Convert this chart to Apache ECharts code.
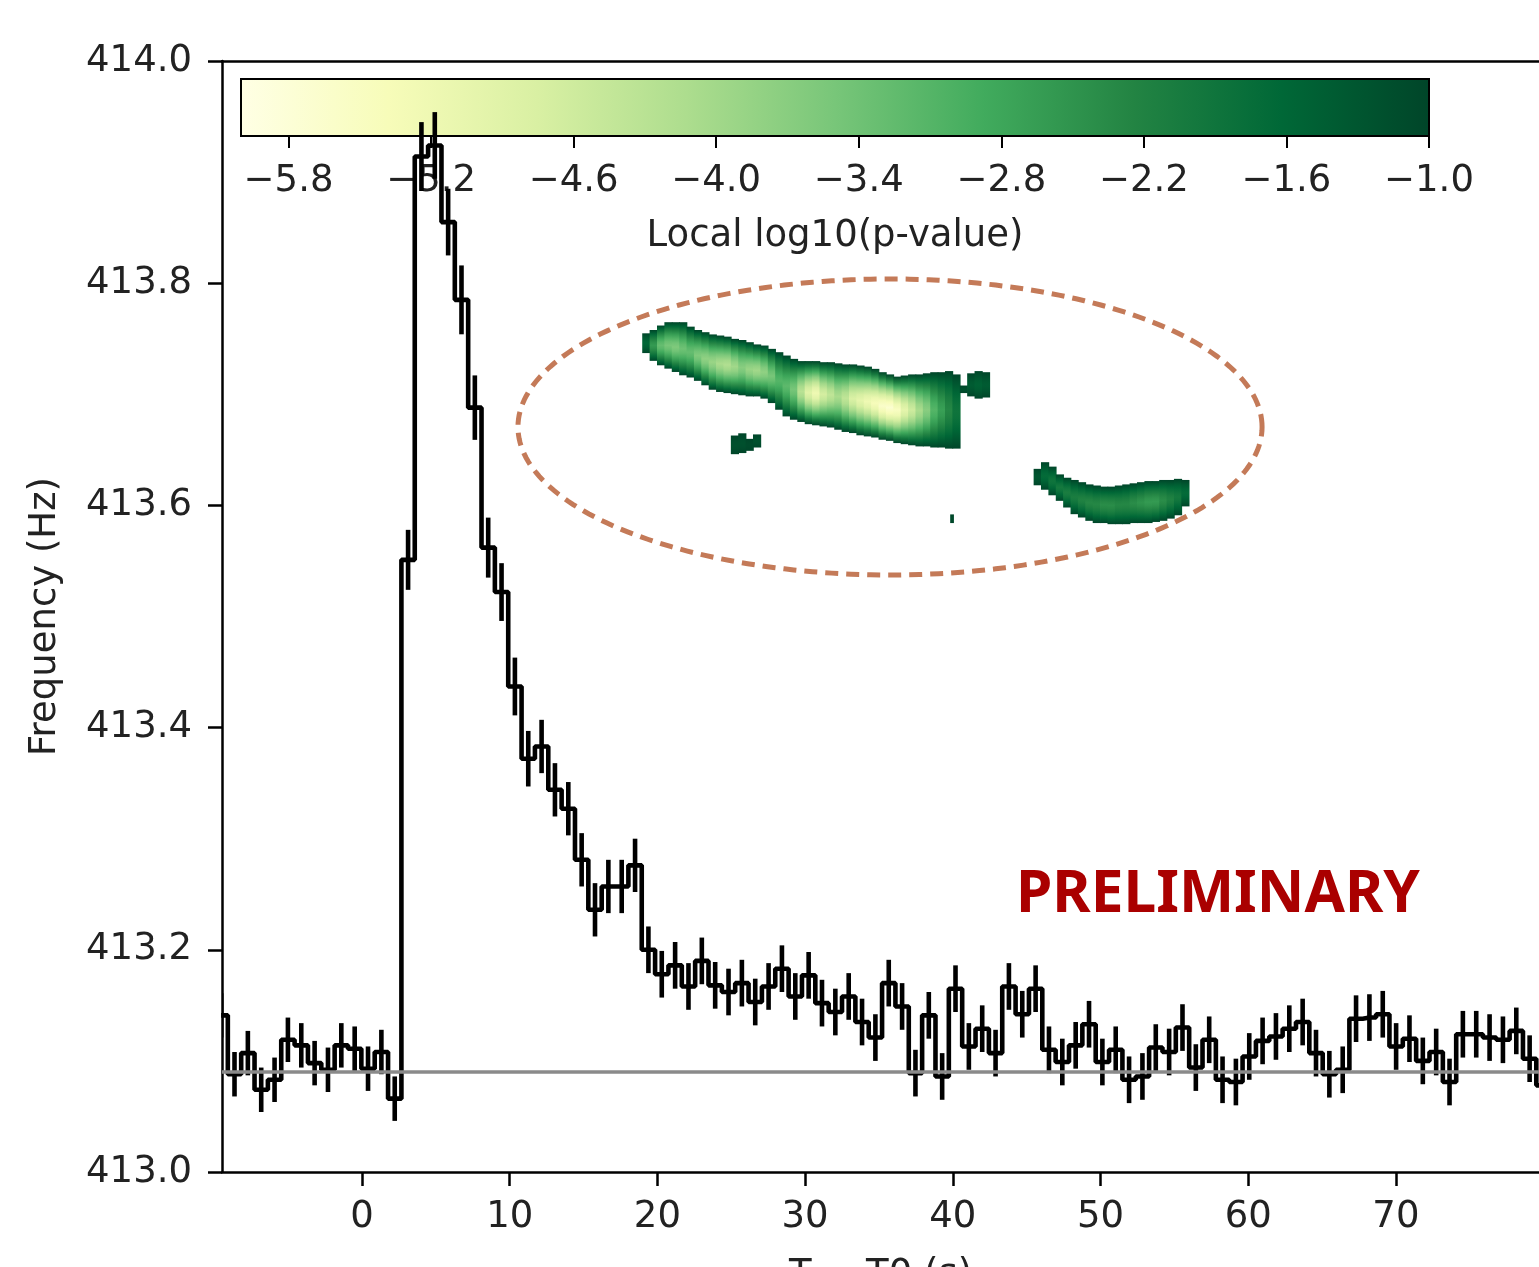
<!DOCTYPE html>
<html><head><meta charset="utf-8">
<script src="https://cdn.jsdelivr.net/npm/echarts@6/dist/echarts.min.js"></script>
<style>html,body{margin:0;padding:0;background:#fff}#c{width:1539px;height:1267px}</style>
</head><body><div id="c"></div>
<script>
// ---------------- data ----------------
const binTimes = [-9.536,-8.632,-7.728,-6.824,-5.920,-5.016,-4.112,-3.208,-2.304,-1.400,
 -0.496,0.408,1.312,2.216,3.120,4.024,4.928,5.832,6.736,7.640,
 8.544,9.448,10.352,11.256,12.160,13.064,13.968,14.872,15.776,16.680,
 17.584,18.488,19.392,20.296,21.200,22.104,23.008,23.912,24.816,25.720,
 26.624,27.528,28.432,29.336,30.240,31.144,32.048,32.952,33.856,34.760,
 35.664,36.568,37.472,38.376,39.280,40.184,41.088,41.992,42.896,43.800,
 44.704,45.608,46.512,47.416,48.320,49.224,50.128,51.032,51.936,52.840,
 53.744,54.648,55.552,56.456,57.360,58.264,59.168,60.072,60.976,61.880,
 62.784,63.688,64.592,65.496,66.400,67.304,68.208,69.112,70.016,70.920,
 71.824,72.728,73.632,74.536,75.440,76.344,77.248,78.152,79.056,79.960];
const freqValues = [413.141,413.088,413.107,413.074,413.083,413.119,413.114,413.098,413.092,413.114,
 413.111,413.093,413.108,413.066,413.551,413.914,413.924,413.855,413.785,413.688,
 413.562,413.522,413.437,413.372,413.383,413.344,413.327,413.281,413.236,413.257,
 413.257,413.276,413.200,413.178,413.186,413.167,413.190,413.168,413.162,413.170,
 413.153,413.167,413.183,413.158,413.177,413.152,413.144,413.158,413.135,413.121,
 413.170,413.149,413.089,413.141,413.086,413.165,413.113,413.129,413.107,413.167,
 413.142,413.165,413.110,413.099,413.114,413.133,413.099,413.110,413.083,413.086,
 413.112,413.108,413.130,413.094,413.119,413.083,413.081,413.104,413.118,413.122,
 413.129,413.135,413.107,413.088,413.092,413.138,413.139,413.142,413.113,413.120,
 413.100,413.108,413.081,413.124,413.124,413.121,413.119,413.127,413.102,413.078];
const freqErrors = [0.020,0.020,0.020,0.020,0.020,0.020,0.020,0.020,0.020,0.020,
 0.020,0.020,0.020,0.020,0.027,0.031,0.030,0.030,0.031,0.029,
 0.027,0.026,0.026,0.025,0.024,0.024,0.024,0.024,0.024,0.024,
 0.024,0.024,0.021,0.021,0.021,0.021,0.021,0.021,0.021,0.021,
 0.021,0.021,0.021,0.021,0.021,0.021,0.021,0.021,0.021,0.021,
 0.021,0.021,0.021,0.021,0.021,0.021,0.021,0.021,0.021,0.021,
 0.021,0.021,0.021,0.021,0.021,0.021,0.021,0.021,0.021,0.021,
 0.021,0.021,0.021,0.021,0.021,0.021,0.021,0.021,0.021,0.021,
 0.021,0.021,0.021,0.021,0.021,0.021,0.021,0.021,0.021,0.021,
 0.021,0.021,0.021,0.021,0.021,0.021,0.021,0.021,0.021,0.021];
const baselineHz = 413.093;

// search-statistic blobs (column start time, top freq, bottom freq, local log10 p at core)
const trackA_t = [19.0,19.5,20.0,20.5,21.0,21.5,22.0,22.5,23.0,23.5,24.0,24.5,25.0,25.5,26.0,26.5,27.0,27.5,28.0,28.5,29.0,29.5,30.0,30.5,31.0,31.5,32.0,32.5,33.0,33.5,34.0,34.5,35.0,35.5,36.0,36.5,37.0,37.5,38.0,38.5,39.0,39.5,40.0];
const trackA_top = [413.754,413.757,413.761,413.764,413.764,413.764,413.760,413.757,413.755,413.753,413.752,413.751,413.749,413.748,413.746,413.744,413.743,413.740,413.737,413.734,413.731,413.729,413.729,413.729,413.728,413.728,413.727,413.726,413.726,413.725,413.724,413.722,413.719,413.717,413.715,413.716,413.717,413.717,413.718,413.719,413.719,413.720,413.717];
const trackA_bot = [413.738,413.731,413.727,413.724,413.721,413.718,413.716,413.713,413.709,413.705,413.703,413.702,413.701,413.700,413.699,413.699,413.697,413.693,413.687,413.681,413.678,413.676,413.674,413.673,413.672,413.671,413.669,413.667,413.666,413.664,413.663,413.662,413.660,413.659,413.657,413.656,413.655,413.654,413.654,413.653,413.653,413.652,413.652];
const trackA_val = [-1.6,-2.6,-3.3,-3.5,-3.6,-3.4,-3.3,-3.6,-3.8,-3.9,-4.1,-4.2,-4.0,-3.7,-3.9,-4.0,-3.8,-3.5,-3.1,-3.2,-3.5,-4.3,-4.9,-5.2,-4.7,-4.4,-4.1,-4.4,-4.8,-5.0,-5.2,-5.4,-5.6,-5.7,-5.5,-5.0,-4.6,-4.1,-3.7,-3.1,-2.7,-2.3,-1.9];

const trackB_t = [45.5,46.0,46.5,47.0,47.5,48.0,48.5,49.0,49.5,50.0,50.5,51.0,51.5,52.0,52.5,53.0,53.5,54.0,54.5,55.0,55.5];
const trackB_top = [413.632,413.638,413.634,413.627,413.624,413.622,413.620,413.618,413.617,413.616,413.616,413.617,413.618,413.619,413.620,413.621,413.621,413.622,413.622,413.623,413.622];
const trackB_bot = [413.619,413.615,413.610,413.605,413.599,413.593,413.590,413.587,413.585,413.585,413.584,413.584,413.584,413.585,413.585,413.585,413.586,413.587,413.589,413.592,413.600];
const trackB_val = [-1.3,-1.7,-1.9,-2.0,-2.1,-2.1,-2.2,-2.3,-2.3,-2.4,-2.4,-2.3,-2.3,-2.4,-2.5,-2.6,-2.6,-2.4,-2.2,-2.0,-1.7];

const blobC_t = [40.5,41.0,41.5,42.0];
const blobC_top = [413.707,413.718,413.720,413.719];
const blobC_bot = [413.702,413.699,413.697,413.698];
const blobC_val = [-1.2,-1.4,-1.5,-1.4];

const blobD_t = [25.0,25.5,26.0,26.5];
const blobD_top = [413.662,413.664,413.659,413.663];
const blobD_bot = [413.647,413.648,413.650,413.653];
const blobD_val = [-1.2,-1.2,-1.1,-1.2];

const blobE_t = [39.85];
const blobE_top = [413.591];
const blobE_bot = [413.585];
const blobE_val = [-1.1];

// search region ellipse: [center time, center freq, half-width (s), half-height (Hz)]
const regionEllipse = [35.75, 413.6706, 25.19, 0.1332];

const xTicks = [0,10,20,30,40,50,60,70];
const cbTicks = [-5.8,-5.2,-4.6,-4.0,-3.4,-2.8,-2.2,-1.6,-1.0];
const cbRange = [-6, -1];

// ---------------- helpers ----------------
const YLGN = ['#ffffe5','#f7fcb9','#d9f0a3','#addd8e','#78c679','#41ab5d','#238443','#006837','#004529'];
function hex2rgb(h){return [parseInt(h.slice(1,3),16),parseInt(h.slice(3,5),16),parseInt(h.slice(5,7),16)];}
const YLGN_RGB = YLGN.map(hex2rgb);
function cmap(v){
  let t=(v-cbRange[0])/(cbRange[1]-cbRange[0]); t=Math.max(0,Math.min(1,t));
  const s=t*8; const i=Math.min(7,Math.floor(s)); const f=s-i;
  const a=YLGN_RGB[i], b=YLGN_RGB[i+1];
  return 'rgb('+a.map((c,j)=>Math.round(c+(b[j]-c)*f)).join(',')+')';
}
const FONT='DejaVu Sans';
const TXT='#222';
const EDGE=-1.0;

function blobData(ts, tops, bots, vals, w){
  return ts.map((t,i)=>[t, tops[i], t+w, bots[i], vals[i]]);
}
const blobs = [].concat(
  blobData(trackA_t, trackA_top, trackA_bot, trackA_val, 0.5),
  blobData(trackB_t, trackB_top, trackB_bot, trackB_val, 0.5),
  blobData(blobC_t, blobC_top, blobC_bot, blobC_val, 0.5),
  blobData(blobD_t, blobD_top, blobD_bot, blobD_val, 0.5),
  blobData(blobE_t, blobE_top, blobE_bot, blobE_val, 0.2)
);

const stepData = binTimes.map((t,i)=>[t, freqValues[i]]);
const errData = binTimes.map((t,i)=>[t, freqValues[i], freqErrors[i]]);

const XMIN=-9.479, XMAX=79.69;
const axisLineStyle={color:'#000',width:2.5};
const LW=4.6;

const option = {
  animation:false,
  backgroundColor:'#fff',
  grid:[
    {left:222, right:0, top:61, bottom:95, show:false, outerBoundsMode:'none', containLabel:false},
    {left:241, width:1188, top:79, height:57, show:false, outerBoundsMode:'none', containLabel:false}
  ],
  xAxis:[
    {gridIndex:0, type:'value', min:XMIN, max:XMAX, position:'bottom',
     axisLine:{show:true, onZero:false, lineStyle:axisLineStyle},
     axisTick:{show:true, length:14, customValues:xTicks, lineStyle:axisLineStyle},
     axisLabel:{show:true, customValues:xTicks, fontSize:37, fontFamily:FONT, color:TXT, margin:27},
     splitLine:{show:false},
     name:'T − T0 (s)', nameLocation:'middle', nameGap:85,
     nameTextStyle:{fontSize:37, fontFamily:FONT, color:TXT}},
    {gridIndex:0, type:'value', min:XMIN, max:XMAX, position:'top',
     axisLine:{show:true, onZero:false, lineStyle:axisLineStyle},
     axisTick:{show:false}, axisLabel:{show:false}, splitLine:{show:false}},
    {gridIndex:1, type:'value', min:cbRange[0], max:cbRange[1], position:'bottom',
     axisLine:{show:false, onZero:false},
     axisTick:{show:true, length:12, customValues:cbTicks, lineStyle:{color:'#000',width:2}},
     axisLabel:{show:true, customValues:cbTicks, fontSize:37, fontFamily:FONT, color:TXT, margin:27,
       formatter:v=>(v<0?'\u2212':'')+Math.abs(v).toFixed(1)},
     splitLine:{show:false},
     name:'Local log10(p-value)', nameLocation:'middle', nameGap:82,
     nameTextStyle:{fontSize:37, fontFamily:FONT, color:TXT}}
  ],
  yAxis:[
    {gridIndex:0, type:'value', min:413, max:414, interval:0.2,
     axisLine:{show:true, onZero:false, lineStyle:axisLineStyle},
     axisTick:{show:true, length:14, lineStyle:axisLineStyle},
     axisLabel:{show:true, fontSize:37, fontFamily:FONT, color:TXT, margin:30, formatter:v=>v.toFixed(1)},
     splitLine:{show:false},
     name:'Frequency (Hz)', nameLocation:'middle', nameGap:158, nameRotate:90,
     nameTextStyle:{fontSize:37, fontFamily:FONT, color:TXT}},
    {gridIndex:1, type:'value', min:0, max:1, show:false}
  ],
  series:[
    { // colorbar
      type:'custom', xAxisIndex:2, yAxisIndex:1, z:1, silent:true,
      data:[[cbRange[0], 1, cbRange[1], 0]], encode:{x:[0,2], y:[1,3]},
      renderItem:(p,api)=>{
        const a=api.coord([api.value(0),api.value(1)]), b=api.coord([api.value(2),api.value(3)]);
        return {type:'rect', shape:{x:a[0],y:a[1],width:b[0]-a[0],height:b[1]-a[1]},
          style:{fill:new echarts.graphic.LinearGradient(0,0,1,0,YLGN.map((c,i)=>({offset:i/8,color:c}))),
                 stroke:'#000', lineWidth:2}};
      }
    },
    { // p-value blobs
      type:'custom', xAxisIndex:0, yAxisIndex:0, z:2, silent:true, clip:true,
      data:blobs, encode:{x:[0,2], y:[1,3]},
      renderItem:(p,api)=>{
        const a=api.coord([api.value(0),api.value(1)]), b=api.coord([api.value(2),api.value(3)]);
        const c=api.value(4); const stops=[];
        for(let i=0;i<=12;i++){const t=i/12; const f=1-Math.pow(Math.abs(2*t-1),1.5);
          stops.push({offset:t,color:cmap(EDGE+(c-EDGE)*f)});}
        return {type:'rect', shape:{x:a[0]-0.4,y:a[1]-1,width:b[0]-a[0]+0.8,height:b[1]-a[1]+2},
          style:{fill:new echarts.graphic.LinearGradient(0,0,0,1,stops)}};
      }
    },
    { // region ellipse
      type:'custom', xAxisIndex:0, yAxisIndex:0, z:3, silent:true,
      data:[regionEllipse], encode:{x:0, y:1},
      renderItem:(p,api)=>{
        const cx=api.value(0), cy=api.value(1), rx=api.value(2), ry=api.value(3); const pts=[];
        for(let i=0;i<=240;i++){const a=i/240*2*Math.PI; pts.push(api.coord([cx+rx*Math.cos(a), cy+ry*Math.sin(a)]));}
        return {type:'polyline', shape:{points:pts}, style:{stroke:'#c47a58', lineWidth:5, lineDash:[13,8], fill:null}};
      }
    },
    { // step line
      type:'line', xAxisIndex:0, yAxisIndex:0, z:4, step:'middle', data:stepData, clip:true,
      symbol:'none', lineStyle:{color:'#000', width:LW}, silent:true,
      markLine:{silent:true, z:6, symbol:['none','none'], label:{show:false},
        lineStyle:{color:'#8a8a8a', width:3.5, type:'solid'}, data:[{yAxis:baselineHz}]}
    },
    { // error bars
      type:'custom', xAxisIndex:0, yAxisIndex:0, z:4, silent:true, clip:true,
      data:errData, encode:{x:0, y:1},
      renderItem:(p,api)=>{
        const t=api.value(0), v=api.value(1), e=api.value(2);
        const a=api.coord([t,v+e]), b=api.coord([t,v-e]);
        return {type:'line', shape:{x1:a[0],y1:a[1],x2:b[0],y2:b[1]}, style:{stroke:'#000', lineWidth:LW}};
      }
    }
  ],
  graphic:[
    {type:'text', left:1016, top:866, z:10,
     style:{text:'PRELIMINARY', fill:'#aa0000', font:'bold 58.5px "Noto Sans", "Open Sans", sans-serif'}}
  ]
};
const chart = echarts.init(document.getElementById('c'), null, {renderer:'canvas'});
chart.setOption(option);
</script></body></html>
